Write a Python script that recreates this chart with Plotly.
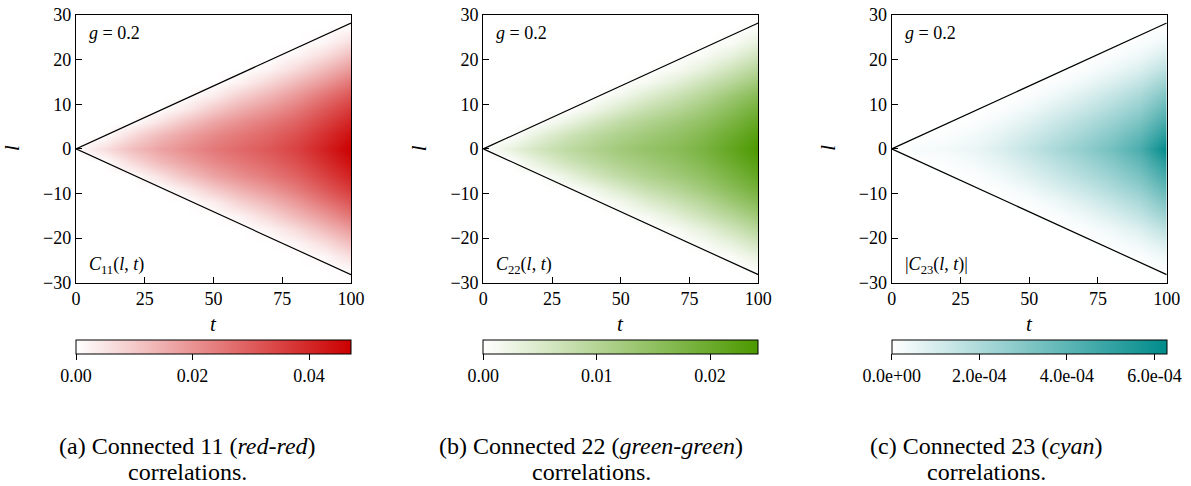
import plotly.graph_objects as go

# ---------------- data ----------------
t_vals = [0, 10, 20, 30, 40, 50, 60, 70, 80, 90, 100]
l_half = [0, 3, 6, 9, 12, 15, 18, 21, 24, 27, 30]

# half profiles (l = 0,3,...,30) for each t, red panel, units 1e-3
c11_half = [
    [0, 0, 0, 0, 0, 0, 0, 0, 0, 0, 0],
    [6, 0, 0, 0, 0, 0, 0, 0, 0, 0, 0],
    [12, 6.5, 0, 0, 0, 0, 0, 0, 0, 0, 0],
    [17, 12.7, 5.3, 0, 0, 0, 0, 0, 0, 0, 0],
    [21, 17.4, 11.3, 4, 0, 0, 0, 0, 0, 0, 0],
    [25, 21.8, 16.8, 10, 3.3, 0, 0, 0, 0, 0, 0],
    [28, 25.2, 21, 15.1, 8.7, 2.5, 0, 0, 0, 0, 0],
    [31, 28.5, 24.8, 19.5, 13.6, 7.4, 2.2, 0, 0, 0, 0],
    [35, 32.6, 29, 24.5, 18.9, 13, 6.7, 1.8, 0, 0, 0],
    [41, 38.5, 34.9, 30.8, 25.4, 18.9, 12.7, 6.2, 1.6, 0, 0],
    [47.2, 44.6, 40.9, 36.7, 31.5, 25.4, 18.8, 12.2, 6.1, 1.4, 0],
]
# green panel, units 1e-3
c22_half = [
    [0, 0, 0, 0, 0, 0, 0, 0, 0, 0, 0],
    [3.1, 0, 0, 0, 0, 0, 0, 0, 0, 0, 0],
    [6.2, 3.3, 0, 0, 0, 0, 0, 0, 0, 0, 0],
    [8.7, 6.5, 2.7, 0, 0, 0, 0, 0, 0, 0, 0],
    [10.8, 8.9, 5.8, 2.1, 0, 0, 0, 0, 0, 0, 0],
    [12.8, 11.2, 8.6, 5.1, 1.7, 0, 0, 0, 0, 0, 0],
    [14.4, 12.9, 10.8, 7.8, 4.5, 1.3, 0, 0, 0, 0, 0],
    [15.9, 14.6, 12.7, 10, 7, 3.8, 1.1, 0, 0, 0, 0],
    [18, 16.8, 14.9, 12.6, 9.7, 6.7, 3.4, 0.9, 0, 0, 0],
    [21.1, 19.8, 17.9, 15.8, 13.1, 9.7, 6.5, 3.2, 0.8, 0, 0],
    [24.25, 22.9, 21, 18.9, 16.2, 13, 9.7, 6.3, 3.1, 0.7, 0],
]
# cyan panel |C23|, units 1e-5
c23_half = [
    [0, 0, 0, 0, 0, 0, 0, 0, 0, 0, 0],
    [2, 0, 0, 0, 0, 0, 0, 0, 0, 0, 0],
    [3, 1, 0, 0, 0, 0, 0, 0, 0, 0, 0],
    [5, 3, 0.8, 0, 0, 0, 0, 0, 0, 0, 0],
    [9, 6.5, 3.5, 0.8, 0, 0, 0, 0, 0, 0, 0],
    [15, 11.5, 7.8, 4, 1, 0, 0, 0, 0, 0, 0],
    [21, 17, 13, 8.5, 4, 1, 0, 0, 0, 0, 0],
    [27, 23, 18.5, 13.5, 8.5, 4, 1, 0, 0, 0, 0],
    [34, 29.5, 24.5, 19.5, 14, 8.5, 4, 1, 0, 0, 0],
    [44, 38.5, 32.5, 26.5, 20.5, 14.5, 8.5, 3.8, 1, 0, 0],
    [62.8, 54, 46, 39, 31.5, 24, 16.5, 9.5, 4, 1, 0],
]
units = [1e-3, 1e-3, 1e-5]
zmax = [0.0472, 0.02425, 6.28e-4]
colors_max = ["#cc0000", "#4c9900", "#008b8b"]

cbar_tickvals = [[0, 0.02, 0.04], [0, 0.01, 0.02], [0, 2e-4, 4e-4, 6e-4]]
cbar_ticktext = [["0.00", "0.02", "0.04"], ["0.00", "0.01", "0.02"],
                 ["0.0e+00", "2.0e-04", "4.0e-04", "6.0e-04"]]

# light cone edges
cone_t = [0, 100]
cone_l = [0, 28.2]

x_ticks = [0, 25, 50, 75, 100]
y_ticks = [-30, -20, -10, 0, 10, 20, 30]

panel_labels = ["<i>C</i><sub>11</sub>(<i>l</i>, <i>t</i>)",
                "<i>C</i><sub>22</sub>(<i>l</i>, <i>t</i>)",
                "|<i>C</i><sub>23</sub>(<i>l</i>, <i>t</i>)|"]
captions = ["(a) Connected 11 (<i>red-red</i>)",
            "(b) Connected 22 (<i>green-green</i>)",
            "(c) Connected 23 (<i>cyan</i>)"]
caption2 = "correlations."
g_label = "<i>g</i> = 0.2"

# ---------------- layout geometry (pixels) ----------------
W, H = 1191, 486
ax_left = [76, 483.3, 891.7]
ax_w = 275
ax_top, ax_bot = 15, 282.7
cap_x = [187, 591, 986]
FONT = "'Liberation Serif', 'DejaVu Serif', 'Times New Roman', serif"

def px_x(v):
    return v / W

def px_y(v):
    return 1 - v / H

l_full = [-l for l in reversed(l_half[1:])] + l_half

fig = go.Figure()
halves = [c11_half, c22_half, c23_half]
annotations = []
for i in range(3):
    half = halves[i]
    z = []
    for l in l_full:
        idx = l_half.index(abs(l))
        z.append([half[j][idx] * units[i] for j in range(len(t_vals))])
    xa = "x" if i == 0 else f"x{i+1}"
    ya = "y" if i == 0 else f"y{i+1}"
    fig.add_trace(go.Heatmap(
        x=t_vals, y=l_full, z=z, zmin=0, zmax=zmax[i], zsmooth="best",
        colorscale=[[0, "#ffffff"], [1, colors_max[i]]],
        xaxis=xa, yaxis=ya, hoverinfo="skip",
        colorbar=dict(
            orientation="h", lenmode="pixels", len=ax_w, thickness=14,
            x=px_x(ax_left[i]), xanchor="left", y=px_y(340), yanchor="top",
            xpad=0, ypad=0, outlinewidth=1, outlinecolor="black",
            tickvals=cbar_tickvals[i], ticktext=cbar_ticktext[i],
            ticks="outside", ticklen=6, tickwidth=1, tickcolor="black",
            tickfont=dict(family=FONT, size=18, color="black"),
        ),
    ))
    for sgn in (1, -1):
        fig.add_trace(go.Scatter(
            x=cone_t, y=[sgn * v for v in cone_l], mode="lines",
            line=dict(color="black", width=1.2), xaxis=xa, yaxis=ya,
            showlegend=False, hoverinfo="skip"))
    axis_common = dict(
        showline=True, linecolor="black", linewidth=1.3, mirror=True,
        ticks="inside", ticklen=6, tickwidth=1, tickcolor="black",
        showgrid=False, zeroline=False, automargin=False,
        tickfont=dict(family=FONT, size=18, color="black"),
    )
    fig.layout[f"xaxis{'' if i == 0 else i+1}"] = dict(
        domain=[px_x(ax_left[i]), px_x(ax_left[i] + ax_w)], range=[0, 100],
        tickvals=x_ticks, anchor=ya, **axis_common)
    fig.layout[f"yaxis{'' if i == 0 else i+1}"] = dict(
        domain=[px_y(ax_bot), px_y(ax_top)], range=[-30, 30],
        tickvals=y_ticks, anchor=xa, **axis_common)
    # text inside panels
    annotations.append(dict(text=g_label, xref=f"{xa} domain", yref=f"{ya} domain",
                            x=0.04, y=0.933, xanchor="left", yanchor="middle",
                            showarrow=False, font=dict(family=FONT, size=18, color="black")))
    annotations.append(dict(text=panel_labels[i], xref=f"{xa} domain", yref=f"{ya} domain",
                            x=0.04, y=0.065, xanchor="left", yanchor="middle",
                            showarrow=False, font=dict(family=FONT, size=18, color="black")))
    # axis titles
    annotations.append(dict(text="<i>t</i>", xref="paper", yref="paper",
                            x=px_x(ax_left[i] + ax_w / 2), y=px_y(324),
                            xanchor="center", yanchor="middle", showarrow=False,
                            font=dict(family=FONT, size=21, color="black")))
    annotations.append(dict(text="<i>l</i>", xref="paper", yref="paper",
                            x=px_x(ax_left[i] - 64), y=px_y(148), textangle=-90,
                            xanchor="center", yanchor="middle", showarrow=False,
                            font=dict(family=FONT, size=21, color="black")))
    # captions
    annotations.append(dict(text=captions[i], xref="paper", yref="paper",
                            x=px_x(cap_x[i]), y=px_y(446), xanchor="center", yanchor="middle",
                            showarrow=False, font=dict(family=FONT, size=24, color="black")))
    annotations.append(dict(text=caption2, xref="paper", yref="paper",
                            x=px_x(cap_x[i]), y=px_y(485.5), xanchor="center", yanchor="bottom",
                            borderpad=0, showarrow=False,
                            font=dict(family=FONT, size=24, color="black")))

fig.update_layout(
    template="none",
    width=W, height=H, margin=dict(l=0, r=0, t=0, b=0, autoexpand=False),
    paper_bgcolor="white", plot_bgcolor="white", showlegend=False,
    font=dict(family=FONT, color="black"),
    annotations=annotations,
)
fig.write_html("out.html", config={"displayModeBar": False},
               post_script="document.body.style.margin='0px';document.body.style.padding='0px';")
